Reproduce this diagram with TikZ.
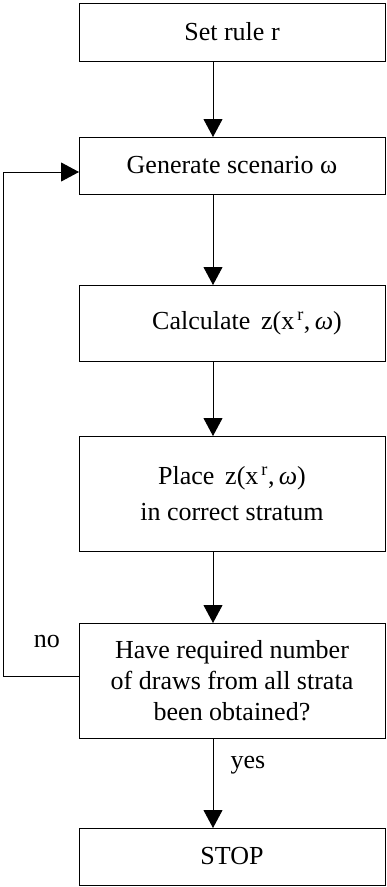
\documentclass[tikz,border=0pt]{standalone}
\usepackage{fontspec}
\setmainfont{Liberation Serif}
\usetikzlibrary{positioning,arrows.meta}

\begin{document}
\begin{tikzpicture}[x=1pt,y=-1pt,
  stepbox/.style={draw,line width=0.9pt,minimum width=306pt,align=center,
    font=\fontsize{26}{31}\selectfont,inner sep=2pt,outer sep=0pt},
  pipe/.style={-{Triangle[length=18pt,width=19pt]},line width=0.9pt},
  lbl/.style={font=\fontsize{26}{31}\selectfont}
]
\useasboundingbox (0,0) rectangle (386,887);

\node[stepbox,minimum height=58pt] (rule) at (232,32) {Set rule r};
\node[stepbox,minimum height=57pt,below=76pt of rule] (scen) {Generate scenario ω};
\node[stepbox,minimum height=76pt,below=91pt of scen] (calc)
  {\hspace*{30pt}Calculate \,z(x\textsuperscript{\,r},\,\textit{ω})};
\node[stepbox,minimum height=115pt,below=75pt of calc] (place)
  {Place \,z(x\textsuperscript{\,r},\,\textit{ω})\\[5pt] in correct stratum};
\node[stepbox,minimum height=115pt,below=72pt of place] (check)
  {Have required number\\ of draws from all strata\\ been obtained?};
\node[stepbox,minimum height=57pt,below=90pt of check] (stop) {STOP};

\draw[pipe] ([xshift=-19pt]rule.south) -- ([xshift=-19pt]scen.north);
\draw[pipe] ([xshift=-19pt]scen.south) -- ([xshift=-19pt]calc.north);
\draw[pipe] ([xshift=-19pt]calc.south) -- ([xshift=-19pt]place.north);
\draw[pipe] ([xshift=-19pt]place.south) -- ([xshift=-19pt]check.north);
\draw[pipe] ([xshift=-19pt]check.south) -- ([xshift=-19pt]stop.north);

% loop back when not finished
\draw[pipe] ([yshift=4.5pt]check.west) -- ++(-76pt,0) |- ([yshift=-6.5pt]scen.west);

\node[lbl] (no) at (47,641) {no};
\node[lbl] (yes) at (248,765) {yes};
\end{tikzpicture}
\end{document}
